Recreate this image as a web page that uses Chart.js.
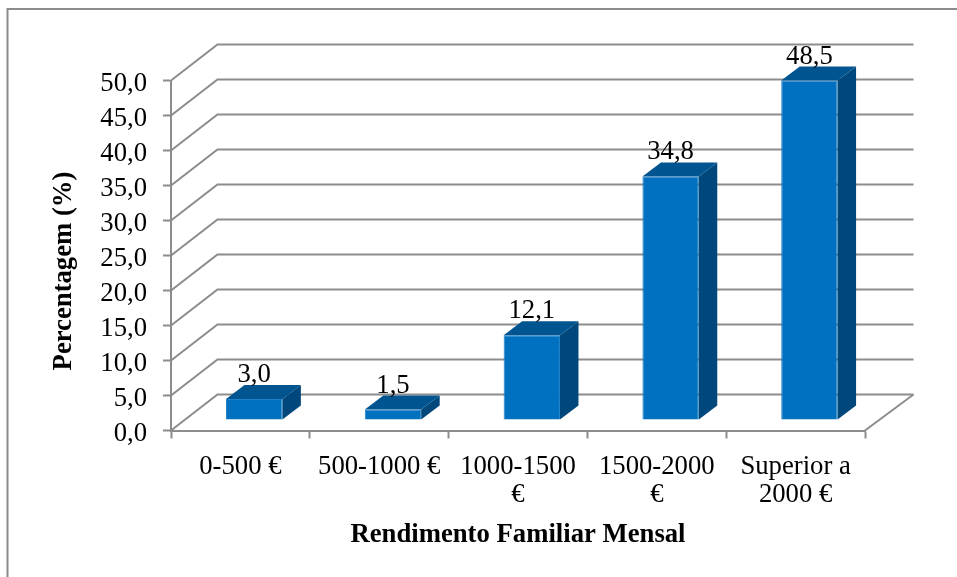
<!DOCTYPE html>
<html>
<head>
<meta charset="utf-8">
<title>Rendimento Familiar Mensal</title>
<script src="https://cdn.jsdelivr.net/npm/chart.js@4/dist/chart.umd.min.js"></script>
<style>
  html, body { margin: 0; padding: 0; background: #fff; }
  canvas { display: block; }
</style>
</head>
<body>
<canvas id="chart-1" width="957" height="577"></canvas>
<script>
const categories = ["0-500 €", "500-1000 €", ["1000-1500", "€"], ["1500-2000", "€"], ["Superior a", "2000 €"]];
const percentages = [3.0, 1.5, 12.1, 34.8, 48.5];
const yAxisTitle = "Percentagem (%)";
const xAxisTitle = "Rendimento Familiar Mensal";

const lineGrey = "#8c8c8c";
const fontSize = 26.7;
const wall = { dx: 46.5, dy: -36 };    // floor depth of the 3d box
const barShift = { dx: 13.8, dy: -10.5 };  // bars stand inside the box
const barDepth = { dx: 18.5, dy: -14 };
const fmt = (v) => v.toFixed(1).replace(".", ",");

function line(ctx, points) {
  ctx.beginPath();
  points.forEach((p, i) => (i ? ctx.lineTo(p[0], p[1]) : ctx.moveTo(p[0], p[1])));
  ctx.stroke();
}
function poly(ctx, points, color) {
  ctx.fillStyle = color;
  ctx.beginPath();
  points.forEach((p, i) => (i ? ctx.lineTo(p[0], p[1]) : ctx.moveTo(p[0], p[1])));
  ctx.closePath();
  ctx.fill();
}

const box3d = {
  id: "box3d",
  beforeDatasetsDraw(chart) {
    const { ctx, chartArea: a, scales: { y } } = chart;
    ctx.save();
    ctx.strokeStyle = lineGrey;
    ctx.lineWidth = 2;
    // frame, only top and left are visible in the picture
    line(ctx, [[chart.width, 9], [7.5, 9], [7.5, chart.height]]);
    y.ticks.forEach((t) => {
      const py = y.getPixelForValue(t.value);
      line(ctx, [[a.left, py], [a.left + wall.dx, py + wall.dy], [a.right + wall.dx + 2, py + wall.dy]]);
    });
    const py = y.getPixelForValue(0);
    line(ctx, [[a.right, py], [a.right + wall.dx + 2, py + wall.dy]]);
    ctx.restore();
  },
  beforeDatasetDraw(chart) {
    chart.ctx.save();
    chart.ctx.translate(barShift.dx, barShift.dy);
  },
  afterDatasetDraw(chart, args) {
    const ctx = chart.ctx;
    args.meta.data.forEach((bar) => {
      const l = bar.x - bar.width / 2, r = bar.x + bar.width / 2;
      const d = barDepth;
      poly(ctx, [[r, bar.y], [r + d.dx, bar.y + d.dy], [r + d.dx, bar.base + d.dy], [r, bar.base]], "#00477c");
      poly(ctx, [[l, bar.y], [l + d.dx, bar.y + d.dy], [r + d.dx, bar.y + d.dy], [r, bar.y]], "#00548f");
    });
    ctx.restore();
  },
  afterDatasetsDraw(chart) {
    const ctx = chart.ctx;
    const meta = chart.getDatasetMeta(0);
    ctx.save();
    ctx.fillStyle = "#000";
    ctx.textAlign = "center";
    ctx.textBaseline = "alphabetic";
    ctx.font = fontSize + 'px "Liberation Serif"';
    meta.data.forEach((bar, i) => {
      ctx.fillText(fmt(percentages[i]), bar.x + barShift.dx, bar.y + barShift.dy - 17);
    });
    ctx.font = "bold " + fontSize + 'px "Liberation Serif"';
    ctx.translate(64, 271);
    ctx.rotate(-Math.PI / 2);
    ctx.textBaseline = "middle";
    ctx.fillText(yAxisTitle, 0, 0);
    ctx.restore();
  },
};

Chart.defaults.font.family = '"Liberation Serif", serif';
Chart.defaults.color = "#000";

new Chart(document.getElementById("chart-1"), {
  type: "bar",
  data: {
    labels: categories,
    datasets: [
      {
        label: "Percentagem",
        data: percentages,
        backgroundColor: "#0070c0",
        borderColor: "#1f82c8",
        borderWidth: 1,
        barPercentage: 0.406,
        categoryPercentage: 1,
        clip: false,
      },
    ],
  },
  options: {
    responsive: false,
    animation: false,
    events: [],
    layout: { padding: { top: 80.5, right: 92, left: 0, bottom: 0 } },
    plugins: {
      legend: { display: false },
      tooltip: { enabled: false },
    },
    scales: {
      x: {
        afterFit(scale) {
          scale.height = 146.5;
        },
        border: { color: lineGrey, width: 2 },
        grid: { drawOnChartArea: false, drawTicks: true, tickLength: 8, tickColor: lineGrey, tickWidth: 2, offset: true },
        ticks: {
          autoSkip: false,
          maxRotation: 0,
          padding: 15,
          font: { size: fontSize, lineHeight: 1.03 },
        },
        title: {
          display: true,
          text: xAxisTitle,
          font: { size: fontSize, weight: "bold" },
          padding: { top: 0, bottom: 26 },
        },
      },
      y: {
        min: 0,
        max: 50,
        afterFit(scale) {
          scale.width = 171;
        },
        border: { color: lineGrey, width: 2 },
        grid: { drawOnChartArea: false, drawTicks: true, tickLength: 8, tickColor: lineGrey, tickWidth: 2 },
        ticks: {
          autoSkip: false,
          stepSize: 5,
          padding: 16,
          labelOffset: 3,
          font: { size: fontSize },
          callback: (v) => fmt(v),
        },
      },
    },
  },
  plugins: [box3d],
});
</script>
</body>
</html>
